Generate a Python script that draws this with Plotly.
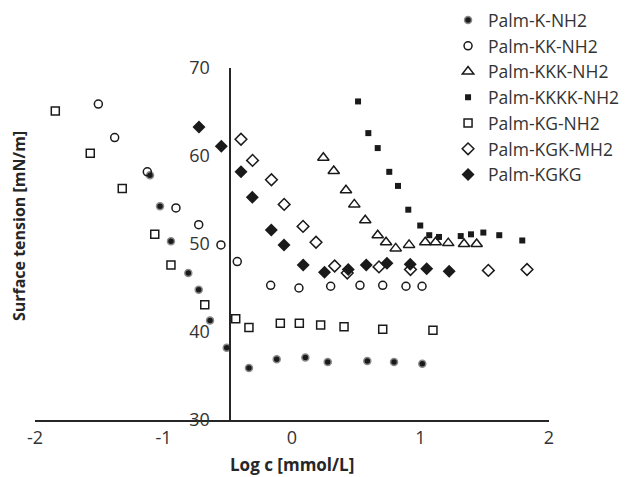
import plotly.graph_objects as go

# ---- data (log c [mmol/L], surface tension [mN/m]) ----
k_x = [-1.105, -1.027, -0.942, -0.807, -0.726, -0.638, -0.508, -0.335, -0.119, 0.104, 0.278, 0.586, 0.794, 1.014]
k_y = [57.8, 54.3, 50.3, 46.7, 44.8, 41.3, 38.2, 35.9, 36.9, 37.1, 36.6, 36.7, 36.6, 36.4]

kk_x = [-1.507, -1.380, -1.126, -0.903, -0.726, -0.553, -0.426, -0.166, 0.054, 0.301, 0.529, 0.706, 0.887, 1.012]
kk_y = [65.9, 62.1, 58.2, 54.1, 52.2, 49.9, 48.0, 45.3, 45.0, 45.2, 45.3, 45.3, 45.2, 45.2]

kkk_x = [0.244, 0.325, 0.420, 0.485, 0.570, 0.667, 0.732, 0.807, 0.911, 1.037, 1.118, 1.216, 1.339, 1.437]
kkk_y = [59.8, 58.3, 56.1, 54.5, 52.7, 51.0, 50.2, 49.5, 49.9, 50.2, 50.2, 50.1, 50.0, 50.0]

kkkk_x = [0.514, 0.594, 0.667, 0.757, 0.825, 0.905, 0.998, 1.068, 1.144, 1.313, 1.393, 1.489, 1.613, 1.792]
kkkk_y = [66.2, 62.6, 60.9, 58.2, 56.6, 53.9, 52.1, 51.0, 50.8, 50.9, 51.1, 51.3, 51.0, 50.4]

kg_x = [-1.842, -1.570, -1.321, -1.068, -0.942, -0.679, -0.438, -0.335, -0.091, 0.057, 0.223, 0.405, 0.706, 1.097]
kg_y = [65.1, 60.3, 56.3, 51.1, 47.6, 43.1, 41.5, 40.5, 41.0, 41.0, 40.8, 40.6, 40.3, 40.2]

kgk_x = [-0.397, -0.307, -0.160, -0.061, 0.086, 0.187, 0.332, 0.430, 0.677, 0.922, 1.528, 1.829]
kgk_y = [61.9, 59.5, 57.3, 54.5, 52.0, 50.2, 47.5, 46.7, 47.4, 47.1, 47.0, 47.1]

kgkg_x = [-0.724, -0.550, -0.397, -0.309, -0.161, -0.062, 0.087, 0.253, 0.438, 0.578, 0.739, 0.920, 1.048, 1.223]
kgkg_y = [63.3, 61.1, 58.2, 55.3, 51.6, 49.9, 47.6, 46.8, 47.1, 47.6, 47.8, 47.7, 47.2, 46.9]

x_ticks = [-2, -1, 0, 1, 2]
y_ticks = [30, 40, 50, 60, 70]

FONT = "Open Sans"
BLACK = "#1a1a1a"

fig = go.Figure()

def add(name, xs, ys, symbol, size, color, line_color, line_w):
    fig.add_trace(go.Scatter(
        x=xs, y=ys, mode="markers", name=name,
        marker=dict(symbol=symbol, size=size, color=color,
                    line=dict(color=line_color, width=line_w)),
    ))

add("Palm-K-NH2", k_x, k_y, "circle", 7, BLACK, "#8a8a8a", 1.5)
add("Palm-KK-NH2", kk_x, kk_y, "circle-open", 8, BLACK, BLACK, 1.5)
add("Palm-KKK-NH2", kkk_x, kkk_y, "triangle-up-open", 10, BLACK, BLACK, 1.5)
add("Palm-KKKK-NH2", kkkk_x, kkkk_y, "square", 6, BLACK, BLACK, 0)
add("Palm-KG-NH2", kg_x, kg_y, "square-open", 8, BLACK, BLACK, 1.5)
add("Palm-KGK-MH2", kgk_x, kgk_y, "diamond-open", 9, BLACK, BLACK, 1.5)
add("Palm-KGKG", kgkg_x, kgkg_y, "diamond", 10, BLACK, BLACK, 0)

fig.update_layout(
    width=630, height=477,
    margin=dict(l=35, r=81, t=68, b=57, autoexpand=False),
    paper_bgcolor="white", plot_bgcolor="white",
    font=dict(family=FONT, size=18, color="#333333"),
    showlegend=True,
    legend=dict(
        x=0.8036, y=1.187, xref="paper", yref="paper", xanchor="left", yanchor="top",
        bgcolor="rgba(0,0,0,0)", font=dict(family=FONT, size=17.5, color="#333333"),
        itemsizing="trace", tracegroupgap=0,
    ),
    xaxis=dict(
        range=[-2, 2], tickvals=x_ticks, ticktext=[str(v) for v in x_ticks],
        showgrid=False, zeroline=False, showline=True, linecolor="#262626", linewidth=2,
        ticks="", ticklabelstandoff=0, domain=[0, 1],
    ),
    yaxis=dict(
        range=[30, 70], tickvals=y_ticks, ticktext=[str(v) for v in y_ticks],
        showgrid=False, zeroline=False, showline=True, linecolor="#262626", linewidth=2,
        ticks="", anchor="free", position=0.38, ticklabelstandoff=16,
    ),
    annotations=[
        dict(
            text="<b>Surface tension [mN/m]</b>", textangle=-90,
            xref="paper", yref="paper", x=-0.031, y=0.551, xanchor="center", yanchor="middle",
            showarrow=False, font=dict(family=FONT, size=16, color="#262626"),
        ),
        dict(
            text="<b>Log c [mmol/L]</b>",
            xref="paper", yref="paper", x=0.5, y=-0.127, xanchor="center", yanchor="middle",
            showarrow=False, borderpad=0, font=dict(family=FONT, size=17, color="#262626"),
        ),
    ],
)

fig.write_html("out.html", config={"displayModeBar": False},
               post_script="document.body.style.margin='0px';")
